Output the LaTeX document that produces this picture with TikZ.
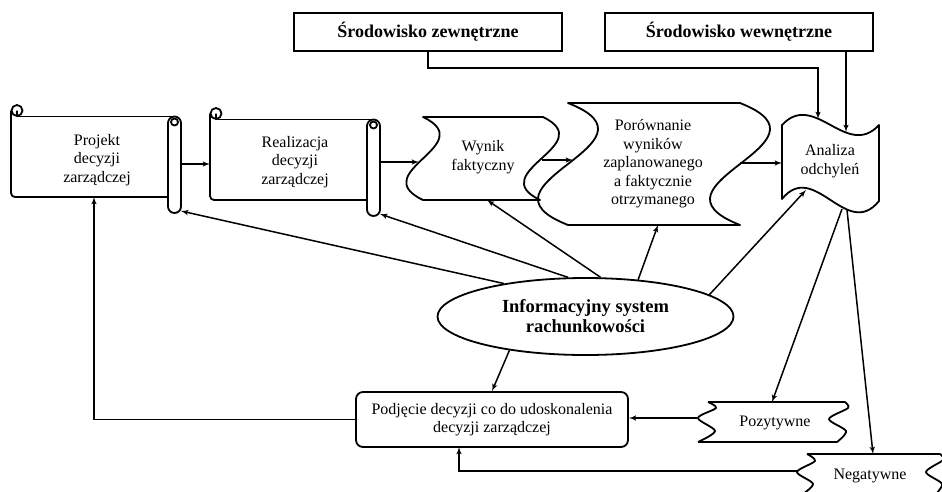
\documentclass[tikz,border=0pt]{standalone}
\usepackage{fontspec}
\setmainfont{Liberation Serif}
\usetikzlibrary{shapes, arrows}
\tikzstyle{srodowisko} = [rectangle, draw, line width=1.5pt, minimum width=268pt,
    minimum height=38pt, font=\fontsize{18}{20}\selectfont\bfseries]
\tikzstyle{opis} = [align=center, inner sep=0pt, font=\fontsize{16}{18.5}\selectfont]
\tikzstyle{system} = [ellipse, draw, line width=1.8pt, minimum width=296pt,
    minimum height=77pt, inner sep=0pt, align=center, font=\fontsize{18.5}{20}\selectfont\bfseries]
\tikzstyle{decyzja} = [rectangle, draw, rounded corners=7pt, line width=1.8pt, minimum width=272pt,
    minimum height=55pt, align=center, font=\fontsize{16}{18.5}\selectfont]
\tikzstyle{obrys} = [draw, line width=1.8pt, line join=round]
\tikzstyle{line} = [draw, -latex', line width=1.5pt]

% scroll outline, shifted by (#1,#2)
\newcommand{\zwoj}[2]{%
  \begin{scope}[shift={(#1,#2)}]
    \draw [obrys, rounded corners=4pt] (11,110.5) -- (11,197) -- (168,197);
    \draw [obrys] (17,116.5) -- (174.5,116.5);
    \draw [obrys] (17,110.5) circle [radius=5.5] (17,110.5) -- (17,116.5);
    \draw [obrys, rounded corners=6.5pt] (168,116.5) rectangle (181,213);
    \draw [obrys] (174.5,122) circle [radius=3.5];
  \end{scope}}

\begin{document}
\begin{tikzpicture}[x=1pt, y=-1pt]
    \useasboundingbox (0,0) rectangle (942,491);
    \clip (0,0) rectangle (942,491);
    % Place nodes
    \node [srodowisko] (zew) at (428,32) {Środowisko zewnętrzne};
    \node [srodowisko] (wew) at (739,32) {Środowisko wewnętrzne};
    \node [opis] (proj) at (97,160) {Projekt\\decyzji\\zarządczej};
    \node [opis] (real) at (295,162) {Realizacja\\decyzji\\zarządczej};
    \node [opis] (wyn) at (483,157) {Wynik\\faktyczny};
    \node [opis] (por) at (653,164) {Porównanie\\wyników\\zaplanowanego\\a faktycznie\\otrzymanego};
    \node [opis] (anal) at (830,161) {Analiza\\odchyleń};
    \node [system] (isr) at (585.5,316.5) {Informacyjny system\\rachunkowości};
    \node [decyzja] (podj) at (492,419.5) {Podjęcie decyzji co do udoskonalenia\\decyzji zarządczej};
    \node [opis] (poz) at (775,423) {Pozytywne};
    \node [opis] (neg) at (870,476) {Negatywne};
    % Outlines
    \zwoj{0}{0}
    \zwoj{199}{3}
    \draw [obrys] (423,117) -- (543,117) .. controls (600,144.7) and (483,172.3) .. (540,200)
        -- (423,200) .. controls (365,172.3) and (481,144.7) .. (423,117) -- cycle;
    \draw [obrys] (568,103) -- (740,103) .. controls (844,143.7) and (636,184.3) .. (740,225)
        -- (568,225) .. controls (464,184.3) and (672,143.7) .. (568,103) -- cycle;
    \draw [obrys] (782,125) .. controls (814.3,90) and (846.7,160) .. (879,125)
        -- (879,201) .. controls (846.7,241) and (814.3,159) .. (782,199) -- cycle;
    \draw [obrys] (708,402) -- (845,402)
        plot [smooth] coordinates {(845,402) (848,408) (829,419) (846,431) (837,442)}
        -- (698,442)
        plot [smooth] coordinates {(698,442) (715,431) (698,418) (716,408) (708,402)};
    \draw [obrys] (807,454) -- (940,454)
        plot [smooth] coordinates {(940,454) (943,460) (926,472) (942,484) (934,496)}
        -- (800,496)
        plot [smooth] coordinates {(800,496) (813,484) (797,472) (815,461) (807,454)};
    % Connection points
    \coordinate (projR) at (181,164);
    \coordinate (realL) at (210,164);
    \coordinate (realR) at (380,162);
    \coordinate (wynL) at (419,162);
    \coordinate (wynR) at (542,160);
    \coordinate (porL) at (573,160);
    \coordinate (porR) at (740,163);
    \coordinate (anL) at (782,163);
    \coordinate (anT1) at (818,119);
    \coordinate (anT2) at (846,132);
    \coordinate (anB1) at (842,209);
    \coordinate (anB2) at (847,210);
    \coordinate (anBL) at (806,190);
    \coordinate (projRoll) at (181,211);
    \coordinate (realRoll) at (380,214);
    \coordinate (wynB) at (487,200);
    \coordinate (porB) at (658,225);
    \coordinate (projB) at (94,197);
    \coordinate (podjB) at (459,447);
    \coordinate (pozT) at (772,402);
    \coordinate (pozL) at (697,418);
    \coordinate (negT) at (873,454);
    \coordinate (negL) at (797,471);
    % Draw edges
    \path [line] (projR) -- (realL);
    \path [line] (realR) -- (wynL);
    \path [line] (wynR) -- (porL);
    \path [line] (porR) -- (anL);
    \path [line] (zew.south) -- ++(0,16) -| (anT1);
    \path [line] (wew.south -| anT2) -- (anT2);
    \path [line] (isr.158) -- (projRoll);
    \path [line] (isr.114) -- (realRoll);
    \path [line] (isr.69) -- (wynB);
    \path [line] (isr.35) -- (porB);
    \path [line] (isr.10) -- (anBL);
    \path [line] (isr.204) -- (podj.north);
    \path [line] (podj.west) -| (projB);
    \path [line] (anB1) -- (pozT);
    \path [line] (anB2) -- (negT);
    \path [line] (pozL) -- (pozL -| podj.east);
    \path [line] (negL) -| (podjB);
\end{tikzpicture}
\end{document}
